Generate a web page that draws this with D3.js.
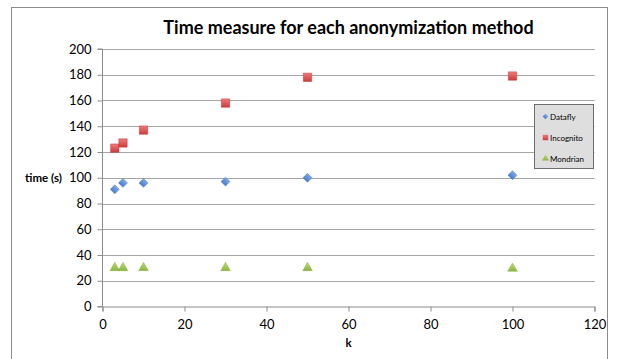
<!DOCTYPE html>
<html>
<head>
<meta charset="utf-8">
<script src="https://cdn.jsdelivr.net/npm/d3@7"></script>
<style>
  body { margin: 0; background: #fff; }
  text { font-family: Lato, "Open Sans", sans-serif; fill: #000; }
</style>
</head>
<body>
<div id="chart"></div>
<script>
// data
let kValues = [3, 5, 10, 30, 50, 100];
let dataflyTime = [91, 96, 96, 97, 100, 102];
let incognitoTime = [123, 127, 137, 158, 178, 179];
let mondrianTime = [30, 30, 30, 30, 30, 29.5];
let seriesNames = ["Datafly", "Incognito", "Mondrian"];
let xTicks = [0, 20, 40, 60, 80, 100, 120];
let yTicks = [0, 20, 40, 60, 80, 100, 120, 140, 160, 180, 200];

let svgWidth = 617;
let svgHeight = 359;

var margin = { top: 49, right: 22.5, bottom: 52.5, left: 102.5 };
let width = svgWidth - margin.left - margin.right;
let height = svgHeight - margin.top - margin.bottom;

let svg = d3.select("#chart")
  .append("svg")
  .attr("width", svgWidth)
  .attr("height", svgHeight);

// outer frame
svg.append("rect")
  .attr("x", 11.5).attr("y", 7.5)
  .attr("width", 596).attr("height", 360)
  .attr("fill", "#fff")
  .attr("stroke", "#8c8c8c");

let defs = svg.append("defs");
function grad(id, c1, c2) {
  let g = defs.append("linearGradient").attr("id", id)
    .attr("x1", 0).attr("y1", 0).attr("x2", 0).attr("y2", 1);
  g.append("stop").attr("offset", "0%").attr("stop-color", c1);
  g.append("stop").attr("offset", "100%").attr("stop-color", c2);
}
grad("gBlue", "#7eaaea", "#4a7cc6");
grad("gRed", "#f07a7a", "#cc3b3b");
grad("gGreen", "#bcdc7c", "#8ab440");

var chartGroup = svg.append("g")
  .attr("transform", `translate(${margin.left}, ${margin.top})`);

let x = d3.scaleLinear().domain([0, 120]).range([0, width]);
let y = d3.scaleLinear().domain([0, 200]).range([height, 0]);

// gridlines
chartGroup.selectAll("line.grid")
  .data(yTicks.filter(d => d > 0))
  .enter().append("line")
  .attr("x1", 0).attr("x2", width)
  .attr("y1", d => Math.round(y(d)) + 0.5)
  .attr("y2", d => Math.round(y(d)) + 0.5)
  .attr("stroke", "#a6a6a6");

// axes
let bottomAxis = d3.axisBottom(x).tickValues(xTicks).tickSize(5).tickPadding(8);
let leftAxis = d3.axisLeft(y).tickValues(yTicks).tickSize(5).tickPadding(6);

let gx = chartGroup.append("g")
  .attr("transform", `translate(0, ${height})`)
  .call(bottomAxis);
let gy = chartGroup.append("g").call(leftAxis);

[gx, gy].forEach(g => {
  g.select(".domain").attr("stroke", "#8c8c8c");
  g.selectAll(".tick line").attr("stroke", "#8c8c8c");
  g.selectAll(".tick text")
    .style("font-family", "Lato, sans-serif")
    .style("font-size", "13px")
    .attr("fill", "#000");
});
gy.select(".domain").attr("d", `M-5,${height}H0V0H-5`);

// markers (diamond = square turned 45deg)
let diamond = d3.symbol().type(d3.symbolSquare).size(40);
let square = d3.symbol().type(d3.symbolSquare).size(70);
let triangle = d3.symbol().type(d3.symbolTriangle).size(40);

let series = [
  { name: seriesNames[0], vals: dataflyTime, sym: diamond, rot: 45, fill: "url(#gBlue)", stroke: "#4a7cc6" },
  { name: seriesNames[1], vals: incognitoTime, sym: square, rot: 0, fill: "url(#gRed)", stroke: "#c03a3a" },
  { name: seriesNames[2], vals: mondrianTime, sym: triangle, rot: 0, fill: "url(#gGreen)", stroke: "#8ab440" }
];

series.forEach(s => {
  chartGroup.selectAll(null)
    .data(kValues.map((k, i) => ({ k: k, v: s.vals[i] })))
    .enter().append("path")
    .attr("d", s.sym)
    .attr("transform", d => `translate(${x(d.k)}, ${y(d.v)}) rotate(${s.rot})`)
    .attr("fill", s.fill)
    .attr("stroke", s.stroke)
    .attr("stroke-width", 0.5);
});

// title and axis labels
svg.append("text")
  .attr("x", margin.left + width / 2)
  .attr("y", 34)
  .attr("text-anchor", "middle")
  .style("font-size", "18px")
  .style("font-weight", "bold")
  .text("Time measure for each anonymization method");

svg.append("text")
  .attr("x", 25)
  .attr("y", 182)
  .style("font-size", "11.5px")
  .style("font-weight", "bold")
  .text("time (s)");

svg.append("text")
  .attr("x", margin.left + width / 2)
  .attr("y", 347)
  .attr("text-anchor", "middle")
  .style("font-size", "11.5px")
  .style("font-weight", "bold")
  .text("k");

// legend
let legend = svg.append("g").attr("transform", "translate(534.5, 104.5)");
legend.append("rect")
  .attr("width", 59).attr("height", 64)
  .attr("fill", "#dedede")
  .attr("stroke", "#6e6e6e");

let legendY = d3.scalePoint().domain(seriesNames).range([12, 54]);
let legendSyms = [
  d3.symbol().type(d3.symbolSquare).size(16),
  d3.symbol().type(d3.symbolSquare).size(30),
  d3.symbol().type(d3.symbolTriangle).size(22)
];
series.forEach((s, i) => {
  legend.append("path")
    .attr("d", legendSyms[i])
    .attr("transform", `translate(11, ${legendY(s.name)}) rotate(${s.rot})`)
    .attr("fill", s.fill);
  legend.append("text")
    .attr("x", 15.5)
    .attr("y", legendY(s.name) + 3)
    .style("font-size", "8px")
    .text(s.name);
});
</script>
</body>
</html>
